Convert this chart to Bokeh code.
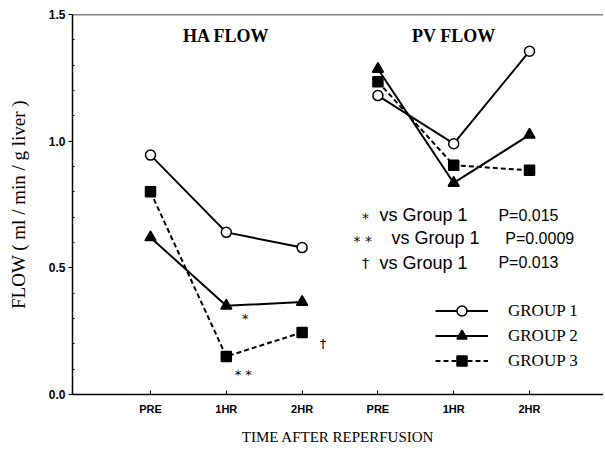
from bokeh.plotting import figure
from bokeh.models import (ColumnDataSource, Legend, LegendItem, Span, Label,
                          FixedTicker, Range1d)
from bokeh.embed import file_html
from bokeh.resources import INLINE
from bokeh.core.properties import value

# ---- data ----
tick_positions = [1, 2, 3, 4, 5, 6]
tick_labels = ["PRE", "1HR", "2HR", "PRE", "1HR", "2HR"]
ha_x = [1, 2, 3]
pv_x = [4, 5, 6]
group_names = ["GROUP 1", "GROUP 2", "GROUP 3"]
g1_ha = [0.945, 0.64, 0.58]
g1_pv = [1.18, 0.99, 1.355]
g2_ha = [0.62, 0.35, 0.365]
g2_pv = [1.285, 0.835, 1.025]
g3_ha = [0.80, 0.15, 0.245]
g3_pv = [1.235, 0.905, 0.885]
# significance marks: symbol, attached to (x, value)
sig_symbols = ["*", "* *", "\u2020"]
sig_x = [2, 2, 3]
sig_y = [g2_ha[1], g3_ha[1], g3_ha[2]]
note_symbols = ["*", "* *", "\u2020"]
note_text = ["vs Group 1", "vs Group 1", "vs Group 1"]
note_p = ["P=0.015", "P=0.0009", "P=0.013"]
panel_titles = ["HA FLOW", "PV FLOW"]
y_label = "FLOW ( ml / min / g liver )"
x_label = "TIME AFTER REPERFUSION"

SERIF = "Liberation Serif"
SANS = "Liberation Sans"
BLACK = "black"

p = figure(width=603, height=449, x_range=Range1d(-0.029, 6.976),
           y_range=Range1d(0, 1.5), output_backend="svg",
           toolbar_location=None, min_border_left=72, min_border_right=0,
           min_border_top=14, min_border_bottom=55)
p.outline_line_color = None
p.xgrid.visible = False
p.ygrid.visible = False
p.background_fill_color = "white"
p.border_fill_color = "white"

# top frame line
p.add_layout(Span(location=1.5, dimension="width", line_color=BLACK,
                  line_width=1.5))

# axes
xa = p.xaxis[0]
xa.ticker = FixedTicker(ticks=tick_positions)
xa.major_label_overrides = {pos: lab for pos, lab in zip(tick_positions, tick_labels)}
xa.major_tick_in = 4
xa.major_tick_out = 0
xa.minor_tick_line_color = None
xa.axis_line_width = 1.5
xa.axis_line_color = BLACK
xa.major_tick_line_color = BLACK
xa.major_label_text_font = SANS
xa.major_label_text_font_style = "bold"
xa.major_label_text_font_size = "11px"
xa.major_label_text_color = BLACK
xa.major_label_standoff = 8
xa.axis_label = x_label
xa.axis_label_text_font = SERIF
xa.axis_label_text_font_style = "normal"
xa.axis_label_text_font_size = "15px"
xa.axis_label_text_color = BLACK
xa.axis_label_standoff = 11

ya = p.yaxis[0]
ya.ticker = FixedTicker(ticks=[0, 0.5, 1.0, 1.5],
                        minor_ticks=[i / 10 for i in range(16) if i % 5])
ya.major_tick_out = 4
ya.major_tick_in = 0
ya.minor_tick_in = 2
ya.minor_tick_out = 0
ya.axis_line_width = 1.5
ya.axis_line_color = BLACK
ya.major_tick_line_color = BLACK
ya.minor_tick_line_color = BLACK
ya.major_label_overrides = {0: "0.0", 0.5: "0.5", 1.0: "1.0", 1.5: "1.5"}
ya.major_label_text_font = SANS
ya.major_label_text_font_style = "bold"
ya.major_label_text_font_size = "12px"
ya.major_label_text_color = BLACK
ya.major_label_standoff = 3
ya.axis_label = y_label
ya.axis_label_text_font = SERIF
ya.axis_label_text_font_style = "normal"
ya.axis_label_text_font_size = "19px"
ya.axis_label_text_color = BLACK
ya.axis_label_standoff = 17

# series
styles = [
    dict(line_dash="solid", marker="circle", fill="white", size=10),
    dict(line_dash="solid", marker="triangle", fill=BLACK, size=11),
    dict(line_dash="5 3", marker="square", fill=BLACK, size=10),
]
series = [(g1_ha, g1_pv), (g2_ha, g2_pv), (g3_ha, g3_pv)]
items = []
for name, (ha, pv), st in zip(group_names, series, styles):
    rends = []
    for xs, ys in ((ha_x, ha), (pv_x, pv)):
        src = ColumnDataSource(dict(x=xs, y=ys))
        lr = p.line("x", "y", source=src, line_color=BLACK, line_width=2,
                    line_dash=st["line_dash"])
        sr = p.scatter("x", "y", source=src, marker=st["marker"],
                       size=st["size"], fill_color=st["fill"],
                       line_color=BLACK, line_width=1.5)
        rends.append((lr, sr))
    items.append(LegendItem(label=name, renderers=[rends[0][0], rends[0][1]]))

legend = Legend(items=items, location=(363, 21), padding=0, margin=0,
                spacing=0, glyph_width=53, glyph_height=25, label_height=25,
                label_standoff=20, border_line_color=None,
                background_fill_alpha=0, label_text_color=BLACK,
                label_text_font=SERIF, label_text_font_size="17px")
p.add_layout(legend)

# significance marks next to points
sig_src = ColumnDataSource(dict(x=sig_x, y=sig_y, t=sig_symbols,
                                xo=[19, 17, 21], yo=[13, 18, 11]))
p.text("x", "y", text="t", source=sig_src, x_offset="xo", y_offset="yo",
       text_font=value("DejaVu Sans"), text_font_size="13px",
       text_align="center", text_baseline="middle", text_color=BLACK)

# panel titles
for tx, title in zip([2, 5], panel_titles):
    p.add_layout(Label(x=tx, y=1.415, text=title, text_font=SERIF,
                       text_font_style="bold", text_font_size="18px",
                       text_color=BLACK,
                       text_align="center", text_baseline="middle"))

# note block
note_y = [0.707, 0.616, 0.521]
sym_x = [3.835, 3.80, 3.835]
txt_x = [4.02, 4.18, 4.02]
p_x = [5.59, 5.68, 5.59]
for i in range(3):
    p.add_layout(Label(x=sym_x[i], y=note_y[i], text=note_symbols[i],
                       text_font="DejaVu Sans", text_font_size="14px",
                       text_color=BLACK, text_align="center",
                       text_baseline="middle",
                       y_offset=-3 if note_symbols[i] != "\u2020" else 0))
    p.add_layout(Label(x=txt_x[i], y=note_y[i], text=note_text[i],
                       text_font=SANS, text_font_size="18px",
                       text_color=BLACK, text_align="left",
                       text_baseline="middle"))
    p.add_layout(Label(x=p_x[i], y=note_y[i], text=note_p[i],
                       text_font=SANS, text_font_size="16px",
                       text_color=BLACK, text_align="left",
                       text_baseline="middle"))

open("out.html", "w").write(file_html(p, INLINE))
